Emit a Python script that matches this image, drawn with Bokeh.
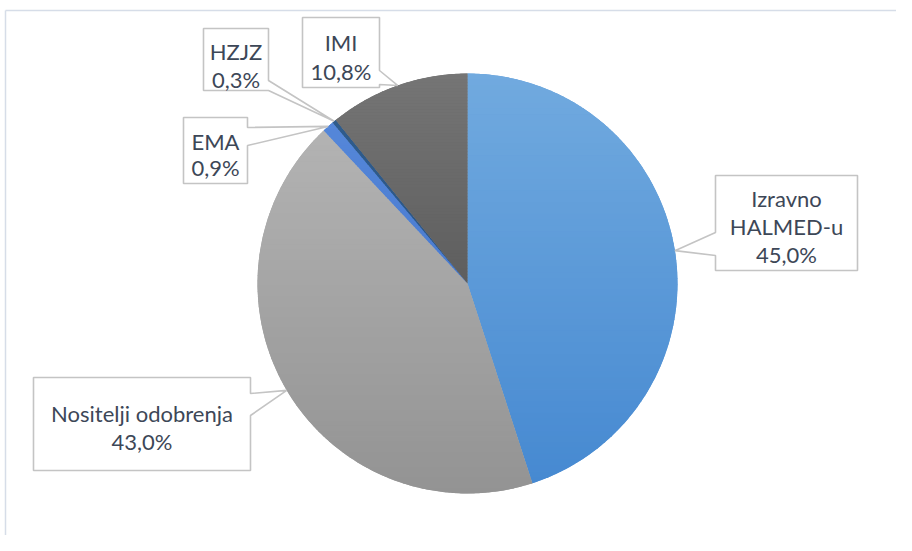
import numpy as np
from bokeh.plotting import figure
from bokeh.models import Range1d, ColumnDataSource
from bokeh.core.properties import value
from bokeh.embed import file_html
from bokeh.resources import INLINE

# ---------------- data ----------------
categories = ["Izravno HALMED-u", "Nositelji odobrenja", "EMA", "HZJZ", "IMI"]
label_lines = [["Izravno", "HALMED-u"], ["Nositelji odobrenja"], ["EMA"], ["HZJZ"], ["IMI"]]
shares = [45.0, 43.0, 0.9, 0.3, 10.8]

# ---------------- styles ----------------
top_colors = ["#71aadf", "#b3b3b3", "#5587d9", "#2f5c8c", "#757575"]
bot_colors = ["#4689d1", "#939393", "#4a7bd0", "#2c5585", "#5e5e5e"]
mid_colors = ["#5b99d8", "#a3a3a3", "#4f80d4", "#2e5a8a", "#6a6a6a"]

W, H = 896, 535
PAGE_H = 551


def Y(py):
    return PAGE_H - py


p = figure(width=W, height=H, output_backend="svg", toolbar_location=None,
           x_range=Range1d(0, W), y_range=Range1d(PAGE_H - H, PAGE_H),
           min_border=0, outline_line_color=None, background_fill_color="white")
p.axis.visible = False
p.grid.visible = False

# chart area border (partially visible)
p.line([5, 904], [Y(10), Y(10)], line_color="#d6dde8", line_width=1.5)
p.line([5, 5], [Y(10), Y(551)], line_color="#d6dde8", line_width=1.5)

# ---------------- pie ----------------
cx, cy, R = 467.0, Y(283.0), 210.0
total = sum(shares)
cum = np.concatenate([[0.0], np.cumsum(shares)])
start_cw = 360.0 * cum[:-1] / total
end_cw = 360.0 * cum[1:] / total

src = ColumnDataSource(dict(
    start=np.radians(90 - start_cw), end=np.radians(90 - end_cw),
    color=mid_colors, cat=categories))
p.wedge(x=cx, y=cy, radius=R, start_angle="start", end_angle="end",
        direction="clock", fill_color="color", line_color=None, source=src)


def hex2rgb(h):
    h = h.lstrip("#")
    return np.array([int(h[i:i + 2], 16) for i in (0, 2, 4)], dtype=float)


def rgb2hex(c):
    return "#%02x%02x%02x" % tuple(int(round(v)) for v in c)


def clip_half(poly, yl, keep_above):
    out = []
    n = len(poly)
    for i in range(n):
        a = poly[i]
        b = poly[(i + 1) % n]
        ina = a[1] >= yl if keep_above else a[1] <= yl
        inb = b[1] >= yl if keep_above else b[1] <= yl
        if ina:
            out.append(a)
        if ina != inb:
            t = (yl - a[1]) / (b[1] - a[1])
            out.append((a[0] + t * (b[0] - a[0]), yl))
    return out


# gradient overlay built from the slice geometry
gx, gy, gc = [], [], []
for i in range(len(shares)):
    th = np.radians(np.linspace(start_cw[i], end_cw[i], max(8, int(shares[i] * 8))))
    poly = [(cx, cy)] + [(cx + R * np.sin(t), cy + R * np.cos(t)) for t in th]
    ys = [q[1] for q in poly]
    ytop, ybot = max(ys), min(ys)
    n = 70
    c0, c1 = hex2rgb(top_colors[i]), hex2rgb(bot_colors[i])
    edges = np.linspace(ytop, ybot, n + 1)
    for k in range(n):
        hi, lo = edges[k], edges[k + 1]
        pc = clip_half(poly, lo - 0.3, True)
        if len(pc) < 3:
            continue
        pc = clip_half(pc, hi + 0.3, False)
        if len(pc) < 3:
            continue
        f = (k + 0.5) / n
        col = rgb2hex(c0 + (c1 - c0) * f)
        gx.append([q[0] for q in pc])
        gy.append([q[1] for q in pc])
        gc.append(col)
p.patches(xs=gx, ys=gy, fill_color=gc, line_color=None)

# ---------------- callouts ----------------
boxes = [
    (715, 175, 857, 270, "left", (232, 255)),
    (33, 377, 250, 470, "right", (393, 415)),
    (183, 117, 247, 183, "right", (127, 145)),
    (203, 28, 268, 90, "right", (80, 90)),
    (302, 17, 379, 87, "right", (70, 84)),
]
baselines = [[198, 226, 254], [413, 441], [141, 167], [51, 79], [42, 71]]

mid_cw = (start_cw + end_cw) / 2
bx, by = [], []
for i, (x0, y0, x1, y1, side, (a, b)) in enumerate(boxes):
    tx = cx + R * np.sin(np.radians(mid_cw[i]))
    ty = cy + R * np.cos(np.radians(mid_cw[i]))
    if side == "right":
        pts = [(x0, Y(y0)), (x1, Y(y0)), (x1, Y(a)), (tx, ty), (x1, Y(b)),
               (x1, Y(y1)), (x0, Y(y1))]
    else:
        pts = [(x0, Y(y0)), (x1, Y(y0)), (x1, Y(y1)), (x0, Y(y1)), (x0, Y(b)),
               (tx, ty), (x0, Y(a))]
    bx.append([q[0] for q in pts])
    by.append([q[1] for q in pts])
p.patches(xs=bx, ys=by, fill_color="white", line_color="#c4c4c4", line_width=1.6)

tx_, ty_, tt = [], [], []
for i, (x0, y0, x1, y1, side, _) in enumerate(boxes):
    lines = label_lines[i] + [("%.1f" % (shares[i] / total * 100)).replace(".", ",") + "%"]
    for j, s in enumerate(lines):
        tx_.append((x0 + x1) / 2)
        ty_.append(Y(baselines[i][j]))
        tt.append(s)
p.text(x=tx_, y=ty_, text=tt, text_align="center", text_baseline="alphabetic",
       text_font=value("Lato"), text_font_size="22px", text_color="#3d4757")

open("out.html", "w").write(file_html(p, INLINE))
